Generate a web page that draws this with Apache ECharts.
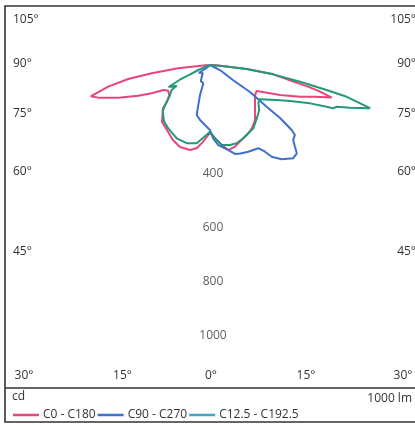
<!DOCTYPE html>
<html><head><meta charset="utf-8">
<script src="https://cdn.jsdelivr.net/npm/echarts@6/dist/echarts.min.js"></script>
<style>html,body{margin:0;padding:0;background:#fff}#c{width:415px;height:425px}</style>
</head><body><div id="c"></div>
<script>
// Series names
const seriesNames = ['C0 - C180', 'C90 - C270', 'C12.5 - C192.5'];
// Each pair: [gamma angle (deg, negative = left half-plane), intensity cd]
const c0c180 = [
  [-90,5],[-85.1,43],[-84.0,118],[-81.9,217],[-80.3,306],[-78.0,384],[-75.3,455],
  [-73.7,429],[-70.4,359],[-66.8,288],[-64.1,239],[-61.8,195],[-58.4,181],[-53.6,187],
  [-49.3,209],[-47.5,235],[-40.1,275],[-33.5,288],[-26.3,309],[-20.1,322],[-13.2,322],
  [-8.9,310],[-5.2,285],[0,250],
  [3.9,271],[8.3,298],[12.2,321],[17.0,315],[24.4,297],[29.3,289],[33.4,280],[35.8,273],
  [39.3,262],[43.0,244],[48.4,222],[56.3,200],[60.9,197],[66.8,281],[70.6,352],[73.2,405],
  [75.0,465],[76.4,418],[77.4,378],[78.7,314],[81.6,236],[83.8,136],[85.5,37],[90,5]
];
const c90c270 = [
  [-90,0],[-50,20],[-55,50],[-42,40],[-30,68],[-20,72],[-18.4,117],[-16.3,154],
  [-14.9,191],[-10.3,206],[-3.1,228],[0,240],
  [2.4,270],[5.9,297],[12.2,321],[15.7,341],[19.0,345],[23.8,350],[30.1,355],[32.4,379],
  [33.9,408],[37.2,437],[41.8,461],[44.5,457],[46.1,435],[48.0,413],[50.5,406],[51.5,385],
  [52.9,324],[53.6,261],[56.0,178],[56.9,101],[63.0,41],[90,0]
];
const c12c192 = [
  [-90,0],[-68,10],[-66.9,47],[-64.5,85],[-64,124],[-62,173],[-58.1,145],[-56.9,169],
  [-52.1,190],[-48.4,222],[-45.4,245],[-39.1,269],[-33.4,280],[-24.4,297],[-16.6,301],
  [-9.6,293],[-2.7,258],[0,246],
  [3.9,271],[8.3,298],[14.0,304],[18.8,305],[24.4,297],[29.3,289],[34.4,283],[41.2,262],
  [47.6,246],[51.6,228],[55.2,221],[62.3,278],[65.8,324],[69.0,395],[70.3,457],[70.6,482],
  [71.8,492],[73.0,540],[74.9,612],[76.9,518],[77.9,440],[79.5,338],[81.6,236],[83.8,136],
  [86,37],[90,0]
];
const radialTicks = [400, 600, 800, 1000];
const sideAngleLabels = ['105°', '90°', '75°', '60°', '45°'];
const bottomAngleLabels = ['30°', '15°', '0°', '15°', '30°'];
const unitLabel = 'cd';
const fluxLabel = '1000 lm';

const colors = ['#e8457a', '#3f6fce', '#23997a'];
const legendColors = ['#e8457a', '#3f6fce', '#3aaabd'];
const FONT = '"Open Sans", "Noto Sans", sans-serif';
const TXT = '#333';

const chart = echarts.init(document.getElementById('c'));

function toPolar(arr) { return arr.map(p => [p[1], p[0]]); }

const sideY = [19.5, 63.5, 113.5, 172, 251.5];
const bottomX = [24, 122.5, 211, 306, 403];

const graphics = [
  { type: 'rect', shape: { x: 5, y: 6, width: 420, height: 416 }, style: { fill: 'none', stroke: '#333', lineWidth: 1.6 }, silent: true },
  { type: 'line', shape: { x1: 5, y1: 388, x2: 420, y2: 388 }, style: { stroke: '#333', lineWidth: 1.6 }, silent: true }
];
sideAngleLabels.forEach((t, i) => {
  graphics.push({ type: 'text', x: 13, y: sideY[i], style: { text: t, fill: TXT, font: '12px ' + FONT, align: 'left', textAlign: 'left', verticalAlign: 'middle', textVerticalAlign: 'middle' }, silent: true });
  graphics.push({ type: 'text', x: 416, y: sideY[i], style: { text: t, fill: TXT, font: '12px ' + FONT, align: 'right', textAlign: 'right', verticalAlign: 'middle', textVerticalAlign: 'middle' }, silent: true });
});
bottomAngleLabels.forEach((t, i) => {
  graphics.push({ type: 'text', x: bottomX[i], y: 376, style: { text: t, fill: TXT, font: '12px ' + FONT, align: 'center', textAlign: 'center', verticalAlign: 'middle', textVerticalAlign: 'middle' }, silent: true });
});
graphics.push({ type: 'text', x: 12, y: 397, style: { text: unitLabel, fill: TXT, font: '12px ' + FONT, align: 'left', textAlign: 'left', verticalAlign: 'middle', textVerticalAlign: 'middle' }, silent: true });
graphics.push({ type: 'text', x: 412, y: 399, style: { text: fluxLabel, fill: TXT, font: '12px ' + FONT, align: 'right', textAlign: 'right', verticalAlign: 'middle', textVerticalAlign: 'middle' }, silent: true });

const lineSeries = [c0c180, c90c270, c12c192].map((d, i) => ({
  name: seriesNames[i], type: 'line', coordinateSystem: 'polar',
  data: toPolar(d), showSymbol: false, symbol: 'none', smooth: false,
  lineStyle: { color: colors[i], width: 2 }, itemStyle: { color: colors[i] },
  animation: false, z: 3 + i
}));

chart.setOption({
  animation: false,
  backgroundColor: '#fff',
  polar: { center: [210, 65], radius: 271 },
  angleAxis: {
    type: 'value', min: -180, max: 180, startAngle: 90, clockwise: false,
    axisLine: { show: false }, axisTick: { show: false }, axisLabel: { show: false }, splitLine: { show: false }
  },
  radiusAxis: {
    type: 'value', min: 0, max: 1000, interval: 200,
    axisLine: { show: false }, axisTick: { show: false }, axisLabel: { show: false }, splitLine: { show: false }
  },
  legend: {
    left: 8, top: 404, itemWidth: 26, itemHeight: 2.5, itemGap: 2, icon: 'rect',
    textStyle: { fontSize: 12, color: TXT, fontFamily: FONT, padding: [0, 0, 0, -1] },
    data: seriesNames.map((n, i) => ({ name: n, itemStyle: { color: legendColors[i] } })),
    selectedMode: false
  },
  graphic: graphics,
  series: lineSeries.concat([{
    type: 'scatter', coordinateSystem: 'polar', silent: true,
    data: radialTicks.map(v => [v, 0]), symbolSize: 1, itemStyle: { color: 'rgba(0,0,0,0)' },
    label: { show: true, position: 'inside', offset: [3, 0], formatter: p => String(p.value[0]), color: TXT, fontSize: 12, fontFamily: FONT },
    z: 2
  }])
});
</script></body></html>
